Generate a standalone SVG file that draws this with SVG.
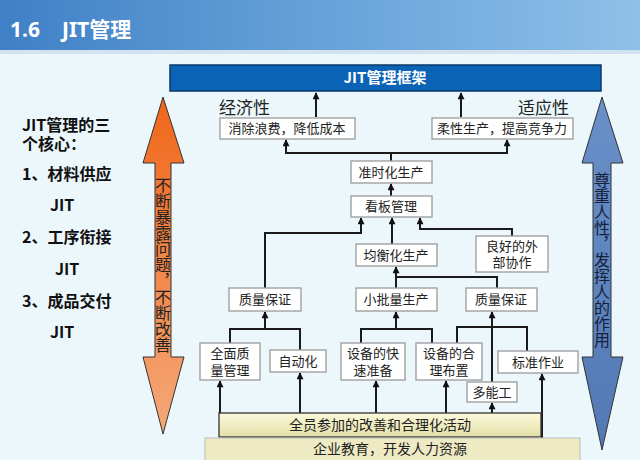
<svg xmlns="http://www.w3.org/2000/svg" width="640" height="460" viewBox="0 0 640 460">
<defs>
<linearGradient id="hdr" x1="0" y1="0" x2="1" y2="0">
<stop offset="0" stop-color="#3f80c6"/>
<stop offset="0.6" stop-color="#6fa8dc"/>
<stop offset="1" stop-color="#8ec0e8"/>
</linearGradient>
<linearGradient id="org" x1="0" y1="0" x2="0" y2="1">
<stop offset="0" stop-color="#f0661a"/>
<stop offset="1" stop-color="#f5a878"/>
</linearGradient>
<linearGradient id="blu" x1="0" y1="0" x2="0" y2="1">
<stop offset="0" stop-color="#6a90c8"/>
<stop offset="1" stop-color="#5279b4"/>
</linearGradient>
<linearGradient id="yel" x1="0" y1="0" x2="0" y2="1">
<stop offset="0" stop-color="#fbf9dc"/>
<stop offset="1" stop-color="#e4dfa8"/>
</linearGradient>
<marker id="up" viewBox="0 0 8 8" refX="4" refY="1" markerWidth="7" markerHeight="8" markerUnits="userSpaceOnUse" orient="0">
<path d="M0,8 L4,0 L8,8 Z" fill="#111"/>
</marker>
</defs>
<style>
.bx{fill:#ffffff;stroke:#9a9a9a;stroke-width:1.3}
.t{font-family:"Noto Sans CJK SC","Noto Sans",sans-serif;font-size:13px;fill:#222;text-anchor:middle}
.big{font-family:"Noto Sans CJK SC","Noto Sans",sans-serif;font-size:17px;fill:#222}
.lt{font-family:"Noto Sans CJK SC","Noto Sans",sans-serif;font-size:16px;font-weight:bold;fill:#111}
.vt{font-family:"Noto Sans CJK SC","Noto Sans",sans-serif;font-size:16px;fill:#222;writing-mode:vertical-rl;text-anchor:middle}
.ln{fill:none;stroke:#1a1a1a;stroke-width:2}
.ar{fill:none;stroke:#1a1a1a;stroke-width:2;marker-end:url(#up)}
</style>
<rect x="0" y="0" width="640" height="460" fill="#ecf7fb"/>
<rect x="0" y="50" width="640" height="4" fill="#d2e2ee"/>
<rect x="0" y="0" width="640" height="50" fill="url(#hdr)"/>
<text x="10" y="37" font-family="'Noto Sans','Noto Sans CJK SC',sans-serif" font-size="21" font-weight="bold" fill="#ffffff">1.6<tspan x="62">JIT管理</tspan></text>

<g id="left-text">
<text class="lt" x="22" y="131">JIT管理的三<tspan x="22" y="150">个核心：</tspan></text>
<text class="lt" x="22" y="180">1、材料供应</text>
<text class="lt" x="50" y="211">JIT</text>
<text class="lt" x="22" y="243">2、工序衔接</text>
<text class="lt" x="55" y="275">JIT</text>
<text class="lt" x="22" y="307">3、成品交付</text>
<text class="lt" x="50" y="338">JIT</text>
</g>

<g id="arrow-left">
<polygon points="163,97 184,163 171,163 171,357 184,357 163,434 143,357 155,357 155,163 143,163" fill="url(#org)" stroke="#333" stroke-width="1"/>
<text class="vt" x="163" y="265">不断暴露问题，不断改善</text>
</g>
<g id="arrow-right">
<polygon points="602,97 623,163 611,163 611,357 623,357 602,450 582,357 593,357 593,163 582,163" fill="url(#blu)" stroke="#333" stroke-width="1"/>
<text class="vt" x="602" y="260" style="fill:#15203a">尊重人性，发挥人的作用</text>
</g>

<g id="frame">
<rect x="170" y="65" width="431" height="26" fill="#0b63b6" stroke="#0a3a6a" stroke-width="1.5"/>
<text x="385" y="83" font-family="'Noto Sans CJK SC',sans-serif" font-size="15" font-weight="bold" fill="#ffffff" text-anchor="middle">JIT管理框架</text>
</g>

<g id="connectors">
<path class="ar" d="M316,117 V93"/>
<path class="ar" d="M461,117 V93"/>
<path class="ar" d="M391,161 V153 H286 V140"/>
<path class="ar" d="M391,153 H507 V140"/>
<path class="ar" d="M391,196 V184"/>
<path class="ar" d="M265,288 V233 H361 V218"/>
<path class="ar" d="M392,244 V218"/>
<path class="ar" d="M512,236 V229 H420 V218"/>
<path class="ln" d="M396,288 V277 H497 V288"/>
<path class="ar" d="M396,277 V267"/>
<path class="ln" d="M230,343 V329 H300 V350"/>
<path class="ar" d="M265,329 V312"/>
<path class="ln" d="M361,343 V329 H432 V343"/>
<path class="ar" d="M396,329 V312"/>
<path class="ln" d="M457,343 V327 H527 V351"/>
<path class="ar" d="M492,382 V312"/>
<path class="ar" d="M220,437 V381"/>
<path class="ar" d="M300,413 V373"/>
<path class="ar" d="M376,413 V381"/>
<path class="ar" d="M446,413 V381"/>
<path class="ar" d="M492,413 V403"/>
<path class="ar" d="M542,452 V374"/>
</g>

<g id="n-econ">
<text class="big" x="219" y="114">经济性</text>
<rect class="bx" x="220" y="118" width="135" height="21"/>
<text class="t" x="287" y="133">消除浪费，降低成本</text>
</g>
<g id="n-adapt">
<text class="big" x="518" y="114">适应性</text>
<rect class="bx" x="432" y="118" width="141" height="21"/>
<text class="t" x="502" y="133">柔性生产，提高竞争力</text>
</g>
<g id="n-jit">
<rect class="bx" x="351" y="161" width="81" height="22"/>
<text class="t" x="391" y="177">准时化生产</text>
</g>
<g id="n-kanban">
<rect class="bx" x="351" y="196" width="81" height="21"/>
<text class="t" x="391" y="211">看板管理</text>
</g>
<g id="n-level">
<rect class="bx" x="356" y="244" width="81" height="22"/>
<text class="t" x="396" y="260">均衡化生产</text>
</g>
<g id="n-coop">
<rect class="bx" x="476" y="236" width="72" height="36"/>
<text class="t" x="512" y="251">良好的外<tspan x="512" y="267">部协作</tspan></text>
</g>
<g id="n-qa1">
<rect class="bx" x="229" y="288" width="72" height="23"/>
<text class="t" x="265" y="304">质量保证</text>
</g>
<g id="n-small">
<rect class="bx" x="356" y="288" width="81" height="23"/>
<text class="t" x="396" y="304">小批量生产</text>
</g>
<g id="n-qa2">
<rect class="bx" x="466" y="288" width="71" height="23"/>
<text class="t" x="501" y="304">质量保证</text>
</g>
<g id="n-tqm">
<rect class="bx" x="200" y="343" width="60" height="37"/>
<text class="t" x="230" y="358">全面质<tspan x="230" y="375">量管理</tspan></text>
</g>
<g id="n-auto">
<rect class="bx" x="270" y="350" width="56" height="22"/>
<text class="t" x="298" y="366">自动化</text>
</g>
<g id="n-setup">
<rect class="bx" x="341" y="343" width="64" height="37"/>
<text class="t" x="373" y="358">设备的快<tspan x="373" y="375">速准备</tspan></text>
</g>
<g id="n-layout">
<rect class="bx" x="416" y="343" width="66" height="37"/>
<text class="t" x="449" y="358">设备的合<tspan x="449" y="375">理布置</tspan></text>
</g>
<g id="n-std">
<rect class="bx" x="498" y="351" width="80" height="22"/>
<text class="t" x="538" y="367">标准作业</text>
</g>
<g id="n-multi">
<rect class="bx" x="467" y="382" width="50" height="20"/>
<text class="t" x="492" y="397">多能工</text>
</g>
<g id="n-kaizen">
<rect x="219" y="413" width="322" height="24" fill="url(#yel)" stroke="#333" stroke-width="1.3"/>
<text class="t" x="380" y="430" style="font-size:14px">全员参加的改善和合理化活动</text>
</g>
<g id="n-edu">
<rect x="205" y="438" width="375" height="24" fill="#eeebc4" stroke="#bbb" stroke-width="1"/>
<text class="t" x="390" y="454" style="font-size:14px">企业教育，开发人力资源</text>
</g>
</svg>
